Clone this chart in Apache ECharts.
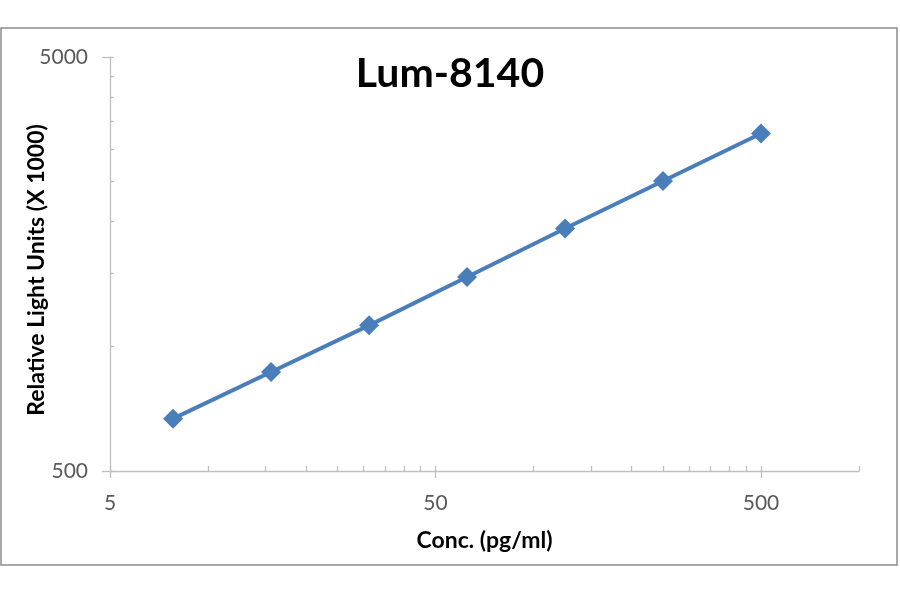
<!DOCTYPE html>
<html>
<head>
<meta charset="utf-8">
<script src="https://cdn.jsdelivr.net/npm/echarts@6/dist/echarts.min.js"></script>
<style>
html,body{margin:0;padding:0;background:#fff;}
#chart{width:900px;height:594px;}
</style>
</head>
<body>
<div id="chart"></div>
<script>
// Data
const concentrations = [7.8125, 15.625, 31.25, 62.5, 125, 250, 500];
const rlu = [669, 867, 1124, 1471, 1926, 2509, 3266];

// Axis ticks / labels
const xMajorTicks = [5, 50, 500];
const xMinorTicks = [10, 15, 20, 25, 30, 35, 40, 45, 100, 150, 200, 250, 300, 350, 400, 450, 1000];
const yMajorTicks = [500, 5000];
const yMinorTicks = [1000, 1500, 2000, 2500, 3000, 3500, 4000, 4500];

const points = concentrations.map((c, i) => [c, rlu[i]]);

const axisGray = '#bfbfbf';
const labelGray = '#595959';
const fontFam = 'Lato, "Open Sans", sans-serif';
const plain = v => String(Math.round(v));

const chart = echarts.init(document.getElementById('chart'), null, {renderer: 'canvas'});
chart.setOption({
  animation: false,
  backgroundColor: '#ffffff',
  title: {
    text: 'Lum-8140',
    left: 'center',
    top: 48,
    textStyle: {fontFamily: fontFam, fontWeight: 'bold', fontSize: 41, color: '#000'}
  },
  graphic: [{
    type: 'rect',
    shape: {x: 1, y: 28, width: 896, height: 537},
    style: {fill: null, stroke: '#8c8c8c', lineWidth: 1.5},
    silent: true
  }],
  grid: {left: 110, right: 41, top: 57, bottom: 123, containLabel: false, outerBoundsMode: 'none'},
  xAxis: [{
    type: 'log', logBase: 10, min: 5, max: 1000, position: 'bottom',
    name: 'Conc. (pg/ml)', nameLocation: 'middle', nameGap: 58,
    nameTextStyle: {fontFamily: fontFam, fontWeight: 'bold', fontSize: 23, color: '#000'},
    axisLine: {show: true, lineStyle: {color: axisGray, width: 1.3}},
    axisTick: {show: true, customValues: xMajorTicks, length: 7, lineStyle: {color: axisGray, width: 1.3}},
    axisLabel: {show: true, customValues: xMajorTicks, margin: 22, formatter: plain, fontFamily: fontFam, fontSize: 21, color: labelGray},
    splitLine: {show: false}, minorTick: {show: false}
  }, {
    type: 'log', logBase: 10, min: 5, max: 1000, position: 'bottom',
    axisLine: {show: false},
    axisTick: {show: true, inside: true, customValues: xMinorTicks.concat(xMajorTicks), length: 5, lineStyle: {color: axisGray, width: 1.3}},
    axisLabel: {show: false},
    splitLine: {show: false}
  }],
  yAxis: [{
    type: 'log', logBase: 10, min: 500, max: 5000, position: 'left',
    name: 'Relative Light Units (X 1000)', nameLocation: 'middle', nameGap: 62,
    nameMoveOverlap: false,
    nameTextStyle: {fontFamily: fontFam, fontWeight: 'bold', fontSize: 23, color: '#000', padding: [0, 12, 0, 0]},
    axisLine: {show: true, lineStyle: {color: axisGray, width: 1.3}},
    axisTick: {show: true, customValues: yMajorTicks, length: 8, lineStyle: {color: axisGray, width: 1.3}},
    axisLabel: {show: true, customValues: yMajorTicks, margin: 22, formatter: plain, fontFamily: fontFam, fontSize: 21, color: labelGray},
    splitLine: {show: false}
  }, {
    type: 'log', logBase: 10, min: 500, max: 5000, position: 'left',
    axisLine: {show: false},
    axisTick: {show: true, inside: true, customValues: yMinorTicks.concat(yMajorTicks), length: 4, lineStyle: {color: axisGray, width: 1.3}},
    axisLabel: {show: false},
    splitLine: {show: false}
  }],
  series: [{
    type: 'line',
    xAxisIndex: 0, yAxisIndex: 0,
    data: points,
    symbol: 'diamond',
    symbolSize: 20,
    lineStyle: {color: '#4a7ebb', width: 4},
    itemStyle: {color: '#4a7ebb'}
  }]
});
</script>
</body>
</html>
